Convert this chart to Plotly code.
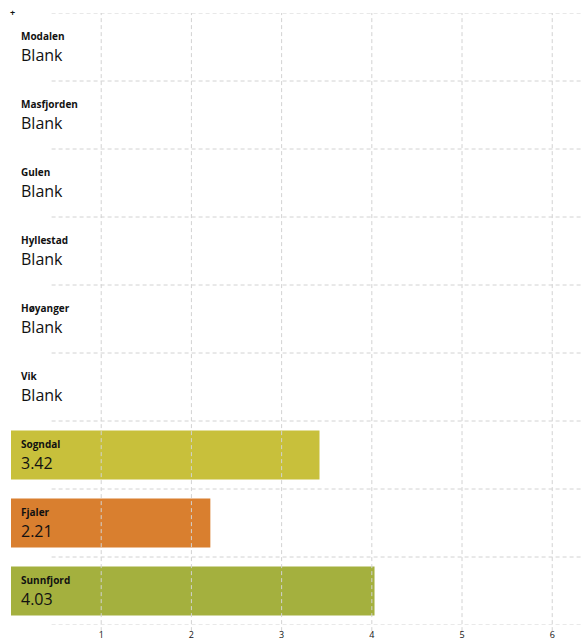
import plotly.graph_objects as go

categories = ["Modalen", "Masfjorden", "Gulen", "Hyllestad", "Høyanger", "Vik",
              "Sogndal", "Fjaler", "Sunnfjord"]
values = [None, None, None, None, None, None, 3.42, 2.21, 4.03]
bar_colors = ["#cccccc"] * 6 + ["#c8c03b", "#d97f2f", "#a4b03e"]
tick_vals = [1, 2, 3, 4, 5, 6]
tick_text = ["1", "2", "3", "4", "5", "6"]

fig = go.Figure()
fig.add_trace(go.Bar(
    y=categories, x=values, orientation="h",
    marker=dict(color=bar_colors, line=dict(width=0)),
    width=0.72, hoverinfo="skip", showlegend=False,
))

annotations = []
for cat, v in zip(categories, values):
    label = "Blank" if v is None else f"{v:.2f}"
    annotations.append(dict(x=0.09, y=cat, xref="x", yref="y", text=f"<b>{cat}</b>",
                            showarrow=False, xanchor="left", yanchor="middle", yshift=11,
                            font=dict(family="Open Sans", size=10, color="#111")))
    annotations.append(dict(x=0.09, y=cat, xref="x", yref="y", text=label,
                            showarrow=False, xanchor="left", yanchor="middle", yshift=-8,
                            font=dict(family="Open Sans", size=16, color="#111")))
annotations.append(dict(x=0.0, y=1, xref="paper", yref="paper", text="<b>+</b>", showarrow=False,
                        xanchor="center", yanchor="bottom", xshift=1, yshift=-8,
                        font=dict(family="Open Sans", size=9, color="#111")))

shapes = []
for i in range(len(categories) + 1):
    shapes.append(dict(type="line", xref="x", yref="y", x0=0.45, x1=6.4,
                       y0=i - 0.5, y1=i - 0.5, layer="above",
                       line=dict(color="#d2d2d2", width=1, dash="4px,3px")))
for t in tick_vals:
    shapes.append(dict(type="line", xref="x", yref="paper", x0=t, x1=t,
                       y0=-0.01, y1=1, layer="above",
                       line=dict(color="#d2d2d2", width=1, dash="4px,3px")))

fig.update_layout(
    width=582, height=640,
    margin=dict(l=11, r=0, t=13, b=15),
    paper_bgcolor="white", plot_bgcolor="white",
    bargap=0.28,
    annotations=annotations, shapes=shapes,
    xaxis=dict(range=[0, 6.33], tickvals=tick_vals, ticktext=tick_text,
               showgrid=False, zeroline=False, showline=False, ticks="",
               tickfont=dict(family="Open Sans", size=9, color="#111"), ticklabelstandoff=3),
    yaxis=dict(autorange=False, range=[8.5, -0.5], type="category",
               categoryorder="array", categoryarray=categories,
               showticklabels=False, showgrid=False, zeroline=False, showline=False, ticks=""),
)

fig.write_html("out.html", config={"displayModeBar": False},
               post_script="document.body.style.margin='0';document.body.style.overflow='hidden';")
